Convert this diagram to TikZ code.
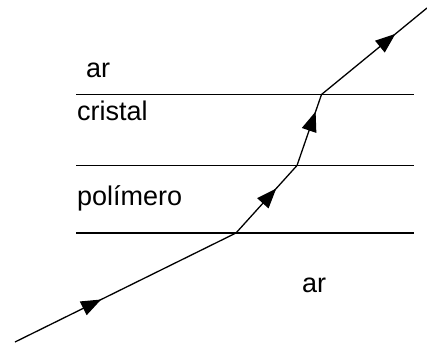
\documentclass[tikz,border=0pt]{standalone}
\usepackage{fontspec}
\setmainfont{Liberation Sans}
\usetikzlibrary{arrows.meta,decorations.markings}
\begin{document}
\begin{tikzpicture}[x=1pt,y=-1pt,
  layer/.style={line width=1.2pt},
  ray/.style={line width=1.3pt,line join=round},
  lbl/.style={anchor=base west,inner sep=0pt,font=\fontsize{27}{32}\selectfont},
  midarrow/.style={postaction={decorate},decoration={markings,
     mark=at position #1 with {\arrow{Triangle[length=20pt,width=15pt]}}}}]
\useasboundingbox (0,0) rectangle (427,344);
% interfaces
\coordinate (l1a) at (76,94.5);  \coordinate (l1b) at (414,94.5);
\coordinate (l2a) at (76,165.5); \coordinate (l2b) at (414,165.5);
\coordinate (l3a) at (76,233);   \coordinate (l3b) at (414,233);
\draw[layer] (l1a) -- (l1b);
\draw[layer] (l2a) -- (l2b);
\draw[layer] (l3a) -- (l3b);
% ray
\coordinate (p0) at (15,342);
\coordinate (p1) at (236,233);
\coordinate (p2) at (297,165.5);
\coordinate (p3) at (321.5,94.5);
\coordinate (p4) at (427,8);
\draw[ray,midarrow=0.39] (p0) -- (p1);
\draw[ray,midarrow=0.66] (p1) -- (p2);
\draw[ray,midarrow=0.76] (p2) -- (p3);
\draw[ray,midarrow=0.70] (p3) -- (p4);
% labels
\node[lbl] (ar1) at (86,78) {ar};
\node[lbl] (cr) at (77,121) {cristal};
\node[lbl] (po) at (77,205) {polímero};
\node[lbl] (ar2) at (302,292) {ar};
\end{tikzpicture}
\end{document}
